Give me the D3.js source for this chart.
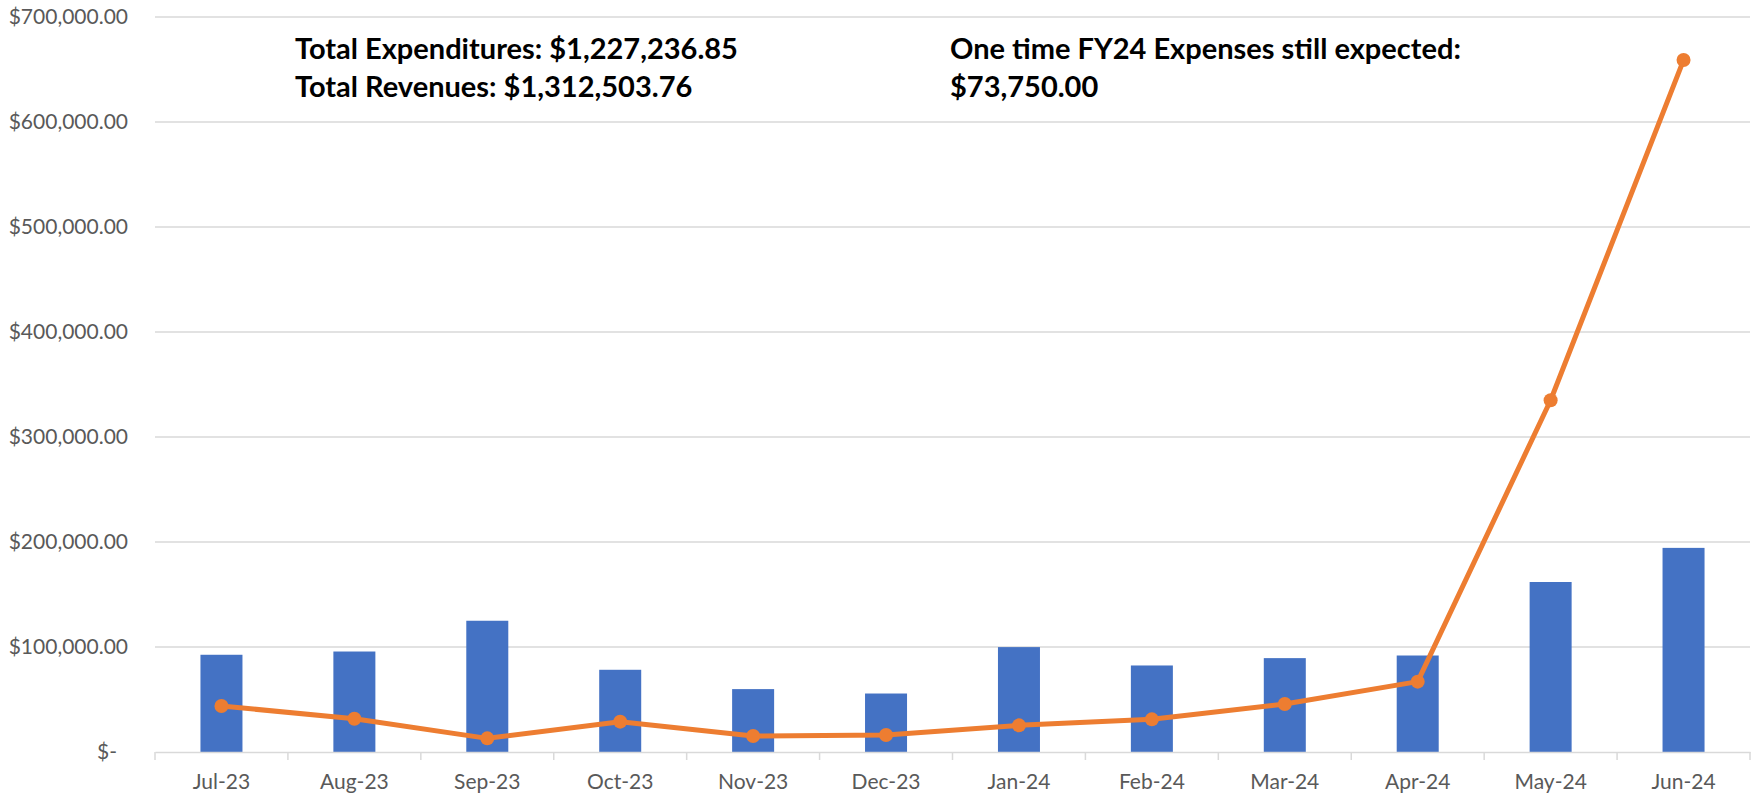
<!DOCTYPE html>
<html>
<head>
<meta charset="utf-8">
<script src="https://cdn.jsdelivr.net/npm/d3@7"></script>
<style>
  html, body { margin: 0; padding: 0; background: #ffffff; }
  svg { display: block; }
</style>
</head>
<body>
<svg id="chart" width="1756" height="799"></svg>
<script>
// Monthly expenditures (bars) and revenues (line), FY24
const months = ["Jul-23", "Aug-23", "Sep-23", "Oct-23", "Nov-23", "Dec-23",
                "Jan-24", "Feb-24", "Mar-24", "Apr-24", "May-24", "Jun-24"];
const expenditures = [92600, 95700, 125000, 78300, 59900, 55700,
                      99900, 82400, 89400, 91900, 161900, 194400];
const revenues = [43800, 31700, 13000, 28900, 15200, 16200,
                  25400, 31100, 45700, 67000, 335000, 659000];
const yTicks = [0, 100000, 200000, 300000, 400000, 500000, 600000, 700000];
const summaryLines = ["Total Expenditures: $1,227,236.85", "Total Revenues: $1,312,503.76"];
const pendingLines = ["One time FY24 Expenses still expected:", "$73,750.00"];

const svg = d3.select("#chart");
const plot = { left: 155, right: 1750, top: 17, bottom: 752 };

const x = d3.scaleBand().domain(months).range([plot.left, plot.right]).padding(0);
const y = d3.scaleLinear().domain([0, 700000]).range([plot.bottom, plot.top]);

const barWidth = x.bandwidth() * 0.316;
const money = d3.format("$,.2f");
const tickText = v => v === 0 ? "$-" : money(v);

// horizontal gridlines
svg.append("g")
  .selectAll("line")
  .data(yTicks.filter(v => v > 0))
  .join("line")
  .attr("x1", plot.left).attr("x2", plot.right)
  .attr("y1", d => y(d)).attr("y2", d => y(d))
  .attr("stroke", "#d9d9d9").attr("stroke-width", 1.5);

// y-axis labels
svg.append("g")
  .selectAll("text")
  .data(yTicks)
  .join("text")
  .attr("x", d => d === 0 ? 117 : 128)
  .attr("y", d => y(d))
  .attr("dy", "0.35em")
  .attr("text-anchor", "end")
  .attr("font-family", "Lato, 'Open Sans', sans-serif")
  .attr("font-size", 21)
  .attr("fill", "#595959")
  .text(tickText);

// expenditure bars
svg.append("g")
  .selectAll("rect")
  .data(months.map((m, i) => ({ m, v: expenditures[i] })))
  .join("rect")
  .attr("x", d => x(d.m) + (x.bandwidth() - barWidth) / 2)
  .attr("width", barWidth)
  .attr("y", d => y(d.v))
  .attr("height", d => y(0) - y(d.v))
  .attr("fill", "#4472c4");

// category axis
const xAxis = d3.axisBottom(x).tickSize(0).tickPadding(0);
const gx = svg.append("g").attr("transform", `translate(0,${plot.bottom})`).call(xAxis);
gx.select(".domain").attr("stroke", "#d9d9d9").attr("stroke-width", 1.5);
gx.selectAll(".tick text")
  .attr("y", 30)
  .attr("dy", "0.35em")
  .attr("font-family", "Lato, 'Open Sans', sans-serif")
  .attr("font-size", 21)
  .attr("fill", "#595959");
// tick marks on category boundaries
const boundaries = months.map(m => x(m)).concat([plot.right]);
gx.append("g")
  .selectAll("line")
  .data(boundaries)
  .join("line")
  .attr("x1", d => d).attr("x2", d => d)
  .attr("y1", 0).attr("y2", 8)
  .attr("stroke", "#d9d9d9").attr("stroke-width", 1.5);

// revenue line
const pts = months.map((m, i) => ({ m, v: revenues[i] }));
const line = d3.line()
  .x(d => x(d.m) + x.bandwidth() / 2)
  .y(d => y(d.v));
svg.append("path")
  .datum(pts)
  .attr("d", line)
  .attr("fill", "none")
  .attr("stroke", "#ed7d31")
  .attr("stroke-width", 5)
  .attr("stroke-linejoin", "round")
  .attr("stroke-linecap", "round");
svg.append("g")
  .selectAll("circle")
  .data(pts)
  .join("circle")
  .attr("cx", d => x(d.m) + x.bandwidth() / 2)
  .attr("cy", d => y(d.v))
  .attr("r", 7)
  .attr("fill", "#ed7d31");

// text annotations
function block(lines, left) {
  svg.append("g")
    .selectAll("text")
    .data(lines)
    .join("text")
    .attr("x", left)
    .attr("y", (d, i) => 49 + i * 38)
    .attr("dy", "0.35em")
    .attr("font-family", "Lato, 'Open Sans', sans-serif")
    .attr("font-weight", "bold")
    .attr("font-size", 29)
    .attr("fill", "#000000")
    .text(d => d);
}
block(summaryLines, 295);
block(pendingLines, 950);
</script>
</body>
</html>
